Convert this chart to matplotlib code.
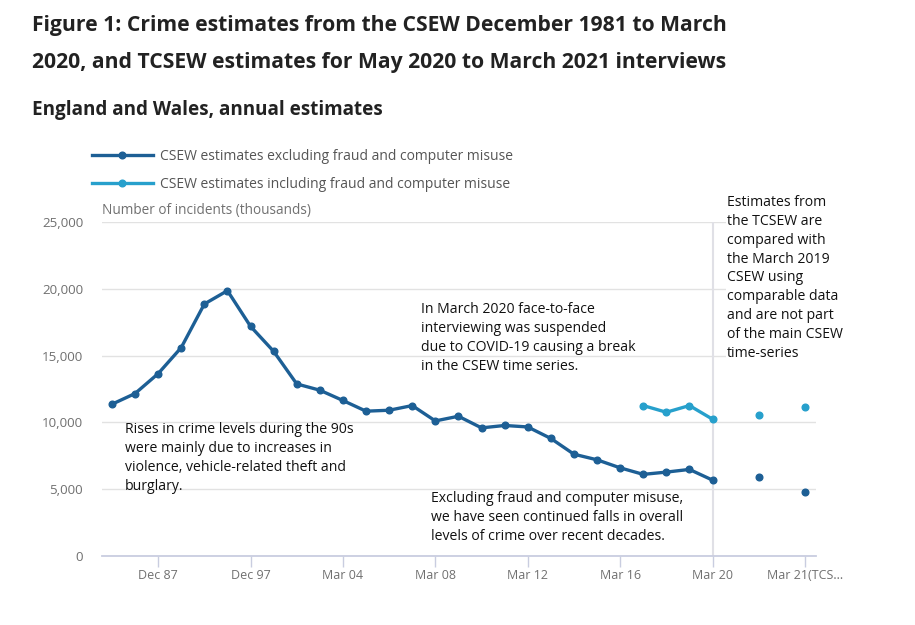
import numpy as np
import matplotlib
matplotlib.use("Agg")
import matplotlib.pyplot as plt

plt.rcParams["font.family"] = ["Open Sans", "DejaVu Sans"]

# categories (survey years); gaps are blank slots on the axis
categories = ["Dec 81", "Dec 83", "Dec 87", "Dec 91", "Dec 93", "Dec 95", "Dec 97",
              "Dec 99", "Mar 02", "Mar 03", "Mar 04", "Mar 05", "Mar 06", "Mar 07",
              "Mar 08", "Mar 09", "Mar 10", "Mar 11", "Mar 12", "Mar 13", "Mar 14",
              "Mar 15", "Mar 16", "Mar 17", "Mar 18", "Mar 19", "Mar 20", "",
              "Mar 19 (CSEW comparable)", "", "Mar 21(TCS..."]

nan = np.nan
excl_fraud = [11360, 12160, 13650, 15600, 18860, 19860, 17190, 15320, 12880, 12410,
              11640, 10840, 10910, 11260, 10110, 10460, 9590, 9770, 9660, 8800,
              7620, 7200, 6600, 6110, 6280, 6480, 5680, nan, 5880, nan, 4780]
incl_fraud = [nan] * 23 + [11260, 10760, 11260, 10240, nan, 10560, nan, 11160]

tick_idx = [2, 6, 10, 14, 18, 22, 26, 30]

dark = "#1d5f95"
light = "#27a0cc"
grey = "#707070"

fig = plt.figure(figsize=(9.15, 6.25), dpi=100)
W, H = 915, 625
ax = fig.add_axes([102 / W, (H - 556) / H, (816 - 102) / W, (556 - 222) / H])

x = np.arange(len(categories))
l1, = ax.plot(x, excl_fraud, color=dark, lw=2.4, marker="o", ms=4.8,
              label="CSEW estimates excluding fraud and computer misuse", zorder=3)
l2, = ax.plot(x, incl_fraud, color=light, lw=2.4, marker="o", ms=4.8,
              label="CSEW estimates including fraud and computer misuse", zorder=3)

ax.set_ylim(0, 25000)
ax.set_xlim(-0.43, 30.48)
ax.set_yticks(range(0, 25001, 5000))
ax.set_yticklabels([f"{v:,}" for v in range(0, 25001, 5000)])
ax.set_xticks(tick_idx)
ax.set_xticklabels([categories[i] for i in tick_idx])
ax.grid(axis="y", color="#e2e2e2", lw=1)
ax.set_axisbelow(True)
for s in ["top", "right", "left"]:
    ax.spines[s].set_visible(False)
ax.spines["bottom"].set_color("#c9cde0")
ax.spines["bottom"].set_linewidth(1.3)
ax.tick_params(axis="x", colors="#c9cde0", length=8, width=1, labelcolor=grey,
               labelsize=9, pad=1.5)
ax.tick_params(axis="y", length=0, labelcolor=grey, labelsize=9.6, pad=13.5)

# break between CSEW and TCSEW
ax.axvline(26, color="#e0e0e6", lw=1.5, zorder=1)

ax.text(0, 1.012, "Number of incidents (thousands)", transform=ax.transAxes,
        color=grey, fontsize=9.8, va="bottom", ha="left")

fig.text(32 / W, 1 - 15 / H,
         "Figure 1: Crime estimates from the CSEW December 1981 to March\n"
         "2020, and TCSEW estimates for May 2020 to March 2021 interviews",
         fontsize=15.2, fontweight="bold", color="#222222", va="top", linespacing=2.0)
fig.text(32 / W, 1 - 100 / H, "England and Wales, annual estimates",
         fontsize=13.6, fontweight="bold", color="#222222", va="top")

fig.legend(handles=[l1, l2], loc="upper left", bbox_to_anchor=(86 / W, 1 - 143 / H),
           frameon=False, fontsize=10, labelcolor="#555555", handlelength=4.4,
           numpoints=1, labelspacing=0.95, handletextpad=0.5, borderaxespad=0)

note_kw = dict(fontsize=10.1, color="#111111", va="top", ha="left", linespacing=1.35)
fig.text(421 / W, 1 - 302 / H,
         "In March 2020 face-to-face\ninterviewing was suspended\n"
         "due to COVID-19 causing a break\nin the CSEW time series.", **note_kw)
fig.text(125 / W, 1 - 422 / H,
         "Rises in crime levels during the 90s\nwere mainly due to increases in\n"
         "violence, vehicle-related theft and\nburglary.", **note_kw)
fig.text(431 / W, 1 - 491 / H,
         "Excluding fraud and computer misuse,\nwe have seen continued falls in overall\n"
         "levels of crime over recent decades.", **note_kw)
fig.text(727 / W, 1 - 195 / H,
         "Estimates from\nthe TCSEW are\ncompared with\nthe March 2019\nCSEW using\n"
         "comparable data\nand are not part\nof the main CSEW\ntime-series",
         fontsize=10.1, color="#111111", va="top", ha="left", linespacing=1.35,
         bbox=dict(facecolor="white", edgecolor="none", pad=1))

fig.savefig("out.png", dpi=100)
